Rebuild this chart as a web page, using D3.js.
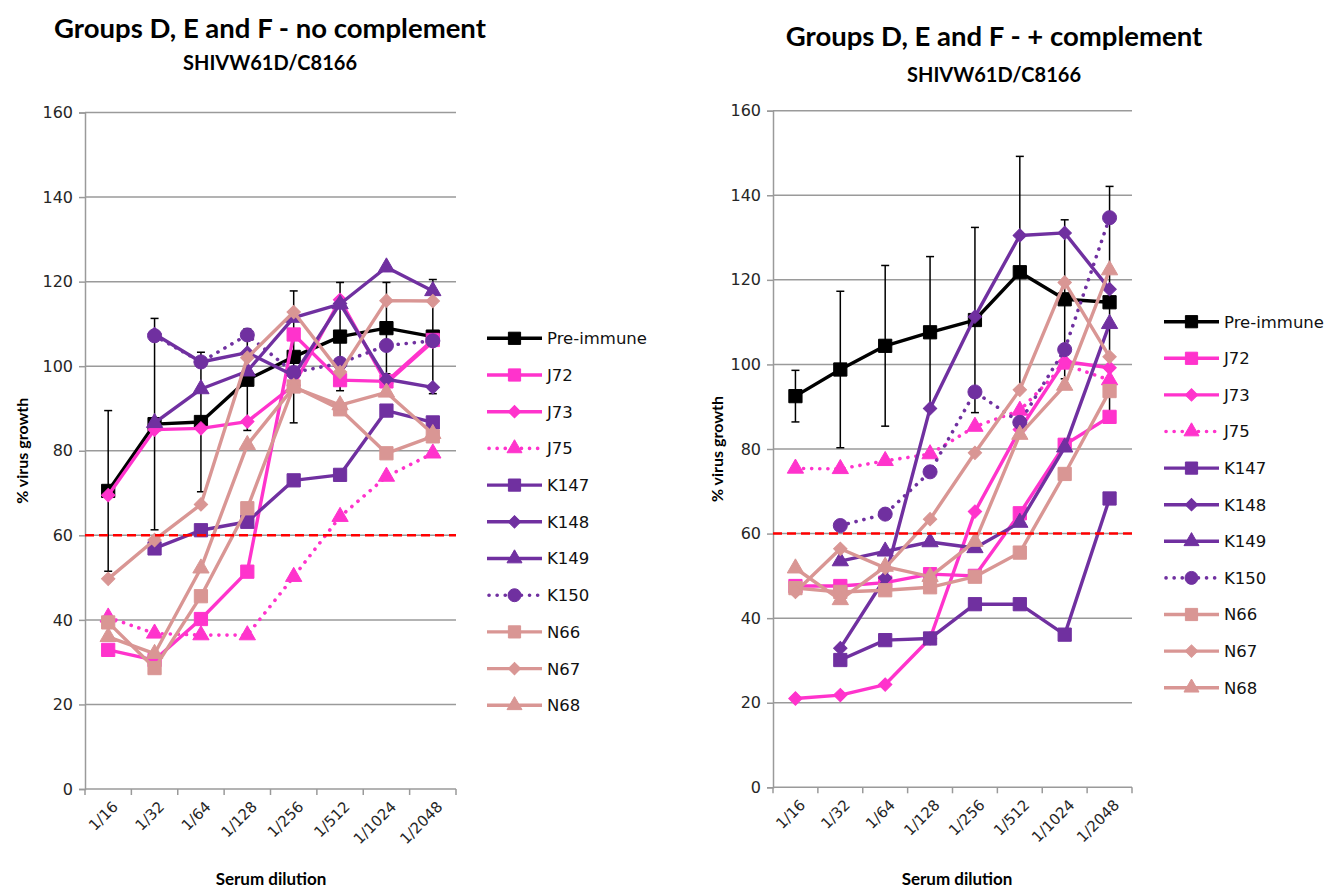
<!DOCTYPE html>
<html>
<head>
<meta charset="utf-8">
<script src="https://cdn.jsdelivr.net/npm/d3@7"></script>
<style>
  html, body { margin: 0; padding: 0; background: #fff; }
  svg { display: block; }
</style>
</head>
<body>
<svg id="chart" width="1336" height="889"></svg>
<script>
// ---------------- DATA ----------------
const categories = ["1/16", "1/32", "1/64", "1/128", "1/256", "1/512", "1/1024", "1/2048"];
const seriesNames = ["Pre-immune", "J72", "J73", "J75", "K147", "K148", "K149", "K150", "N66", "N67", "N68"];
const yTicks = [0, 20, 40, 60, 80, 100, 120, 140, 160];
const thresholdValue = 60;

// Panel 1: no complement
const ncPreImmune = [70.5, 86.3, 86.8, 96.8, 102.2, 107.0, 109.0, 107.0];
const ncPreImmuneErr = [19, 25, 16.5, 12, 15.6, 12.8, 10.8, 13.5];
const ncJ72  = [32.9, 30.5, 40.2, 51.4, 107.5, 96.7, 96.4, 106.2];
const ncJ73  = [69.5, 85.0, 85.3, 86.9, 95.5, 115.7, 96.0, 105.8];
const ncJ75  = [40.6, 36.8, 36.4, 36.4, 50.2, 64.4, 73.9, 79.4];
const ncK147 = [null, 56.9, 61.2, 63.2, 73.0, 74.3, 89.5, 86.7];
const ncK148 = [null, 107.6, 101.0, 103.2, 97.8, 114.8, 96.9, 95.0];
const ncK149 = [null, 86.6, 94.6, 98.8, 111.5, 114.7, 123.4, 117.8];
const ncK150 = [null, 107.2, 101.0, 107.4, 98.5, 100.7, 104.9, 106.0];
const ncN66  = [39.4, 28.6, 45.6, 66.4, 95.2, 89.8, 79.4, 83.4];
const ncN67  = [49.7, 58.9, 67.3, 102.0, 112.8, 98.6, 115.5, 115.4];
const ncN68  = [36.0, 32.0, 52.2, 81.4, 95.0, 90.8, 93.8, 84.0];

// Panel 2: + complement
const pcPreImmune = [92.5, 98.8, 104.4, 107.6, 110.5, 121.8, 115.4, 114.7];
const pcPreImmuneErr = [6.1, 18.5, 19.0, 17.9, 21.9, 27.4, 18.8, 27.4];
const pcJ72  = [47.6, 47.6, 48.4, 50.4, 50.0, 64.8, 81.0, 87.6];
const pcJ73  = [21.0, 21.8, 24.3, 35.2, 65.2, 84.6, 100.7, 99.2];
const pcJ75  = [75.4, 75.3, 77.2, 78.8, 85.3, 89.1, 100.0, 96.3];
const pcK147 = [null, 30.1, 34.8, 35.2, 43.3, 43.3, 36.1, 68.3];
const pcK148 = [null, 32.9, 49.5, 89.6, 111.3, 130.5, 131.1, 117.8];
const pcK149 = [null, 53.5, 55.8, 58.0, 56.6, 62.6, 80.4, 109.6];
const pcK150 = [null, 61.9, 64.6, 74.6, 93.5, 86.3, 103.5, 134.7];
const pcN66  = [47.1, 46.2, 46.6, 47.3, 49.8, 55.5, 74.1, 93.7];
const pcN67  = [46.2, 56.4, 51.9, 63.4, 79.1, 94.0, 119.4, 101.8];
const pcN68  = [51.8, 44.3, 52.2, 49.8, 58.1, 83.4, 95.0, 122.3];

// ---------------- STYLES ----------------
const MAG = "#FF33CC", PUR = "#7030A0", ROSE = "#D99694";
const styleTable = {
  "Pre-immune": { color: "#000000", symbol: "square", dotted: false },
  "J72":  { color: MAG,  symbol: "square",   dotted: false },
  "J73":  { color: MAG,  symbol: "diamond",  dotted: false },
  "J75":  { color: MAG,  symbol: "triangle", dotted: true },
  "K147": { color: PUR,  symbol: "square",   dotted: false },
  "K148": { color: PUR,  symbol: "diamond",  dotted: false },
  "K149": { color: PUR,  symbol: "triangle", dotted: false },
  "K150": { color: PUR,  symbol: "circle",   dotted: true },
  "N66":  { color: ROSE, symbol: "square",   dotted: false },
  "N67":  { color: ROSE, symbol: "diamond",  dotted: false },
  "N68":  { color: ROSE, symbol: "triangle", dotted: false }
};

const panels = [
  {
    title: "Groups D, E and F - no complement", subtitle: "SHIVW61D/C8166",
    titleX: 270, titleY: 38, subY: 70,
    x0: 85, x1: 456, yTop: 112.5, yBot: 789,
    yLabelX: 22, xTitleX: 271,
    legendX: 487, legendY: 338.3, legendStep: 36.7,
    series: [ncPreImmune, ncJ72, ncJ73, ncJ75, ncK147, ncK148, ncK149, ncK150, ncN66, ncN67, ncN68],
    err: ncPreImmuneErr
  },
  {
    title: "Groups D, E and F - + complement", subtitle: "SHIVW61D/C8166",
    titleX: 994, titleY: 46, subY: 82,
    x0: 773, x1: 1132, yTop: 110.7, yBot: 787.3,
    yLabelX: 717, xTitleX: 957,
    legendX: 1164, legendY: 321.7, legendStep: 36.6,
    series: [pcPreImmune, pcJ72, pcJ73, pcJ75, pcK147, pcK148, pcK149, pcK150, pcN66, pcN67, pcN68],
    err: pcPreImmuneErr
  }
];

const svg = d3.select("#chart");
const GRID = "#9a9a9a";
const TEXT = "#262626";

function symbolPath(kind, scale) {
  const s = scale || 1;
  if (kind === "square") return d3.symbol(d3.symbolSquare, 175 * s)();
  if (kind === "diamond") return d3.symbol(d3.symbolSquare, 90 * s)();
  if (kind === "triangle") return d3.symbol(d3.symbolTriangle, 115 * s)();
  return d3.symbol(d3.symbolCircle, 155 * s)();
}
function drawMarker(g, kind, color, cx, cy, scale) {
  g.append("path")
    .attr("d", symbolPath(kind, scale))
    .attr("transform", `translate(${cx},${cy})` + (kind === "diamond" ? " rotate(45)" : ""))
    .attr("fill", color)
    .attr("stroke", color)
    .attr("stroke-width", 1);
}

panels.forEach(p => {
  const x = d3.scaleBand().domain(categories).range([p.x0, p.x1]);
  const y = d3.scaleLinear().domain([0, 160]).range([p.yBot, p.yTop]);
  const g = svg.append("g");

  // titles
  g.append("text").attr("x", p.titleX).attr("y", p.titleY)
    .attr("text-anchor", "middle").attr("font-family", "Lato, 'Open Sans', sans-serif")
    .attr("font-weight", "bold").attr("font-size", 27.5).attr("fill", "#000").text(p.title);
  g.append("text").attr("x", p.titleX).attr("y", p.subY)
    .attr("text-anchor", "middle").attr("font-family", "Lato, 'Open Sans', sans-serif")
    .attr("font-weight", "bold").attr("font-size", 20).attr("fill", "#000").text(p.subtitle);

  // gridlines
  g.append("g").selectAll("line").data(yTicks.filter(t => t > 0)).join("line")
    .attr("x1", p.x0).attr("x2", p.x1).attr("y1", d => y(d)).attr("y2", d => y(d))
    .attr("stroke", GRID).attr("stroke-width", 1.5);

  // y axis
  const yAxis = d3.axisLeft(y).tickValues(yTicks).tickSize(6).tickPadding(6);
  const ya = g.append("g").attr("transform", `translate(${p.x0},0)`).call(yAxis);
  ya.select(".domain").attr("stroke", GRID).attr("stroke-width", 1.5);
  ya.selectAll(".tick line").attr("stroke", GRID).attr("stroke-width", 1.5);
  ya.selectAll(".tick text").attr("font-family", "'DejaVu Sans', Verdana, sans-serif")
    .attr("font-size", 16).attr("fill", TEXT);

  // x axis
  const xa = g.append("g").attr("transform", `translate(0,${p.yBot})`);
  xa.append("line").attr("x1", p.x0).attr("x2", p.x1).attr("y1", 0).attr("y2", 0)
    .attr("stroke", GRID).attr("stroke-width", 1.5);
  const bounds = categories.map(c => x(c)).concat([x(categories[categories.length - 1]) + x.bandwidth()]);
  xa.selectAll("line.tk").data(bounds).join("line").attr("class", "tk")
    .attr("x1", d => d).attr("x2", d => d).attr("y1", 0).attr("y2", 6)
    .attr("stroke", GRID).attr("stroke-width", 1.5);
  xa.selectAll("text.lbl").data(categories).join("text").attr("class", "lbl")
    .attr("transform", d => `translate(${x(d) + x.bandwidth() / 2 + 7},${15}) rotate(-45)`)
    .attr("text-anchor", "end").attr("dy", "0.35em")
    .attr("font-family", "'DejaVu Sans', Verdana, sans-serif").attr("font-size", 15)
    .attr("fill", TEXT).text(d => d);

  // axis titles
  g.append("text").attr("transform", `translate(${p.yLabelX},${(p.yTop + p.yBot) / 2}) rotate(-90)`)
    .attr("text-anchor", "middle").attr("dy", "0.35em")
    .attr("font-family", "Lato, 'Open Sans', sans-serif").attr("font-weight", "bold")
    .attr("font-size", 16).attr("fill", "#000").text("% virus growth");
  g.append("text").attr("x", p.xTitleX).attr("y", 885)
    .attr("text-anchor", "middle")
    .attr("font-family", "Lato, 'Open Sans', sans-serif").attr("font-weight", "bold")
    .attr("font-size", 17).attr("fill", "#000").text("Serum dilution");

  const cx = c => x(c) + x.bandwidth() / 2;

  // series
  p.series.forEach((vals, si) => {
    const name = seriesNames[si];
    const st = styleTable[name];
    const pts = categories.map((c, i) => ({ c, v: vals[i], e: si === 0 ? p.err[i] : null }))
      .filter(d => d.v !== null);
    const sg = g.append("g");
    if (si === 0) {
      const eg = sg.append("g");
      pts.forEach(d => {
        const xx = cx(d.c);
        eg.append("line").attr("x1", xx).attr("x2", xx)
          .attr("y1", y(d.v - d.e)).attr("y2", y(d.v + d.e))
          .attr("stroke", "#000").attr("stroke-width", 1.5);
        [d.v - d.e, d.v + d.e].forEach(v => {
          eg.append("line").attr("x1", xx - 4).attr("x2", xx + 4)
            .attr("y1", y(v)).attr("y2", y(v))
            .attr("stroke", "#000").attr("stroke-width", 1.5);
        });
      });
    }
    const line = d3.line().x(d => cx(d.c)).y(d => y(d.v));
    const path = sg.append("path").datum(pts).attr("d", line)
      .attr("fill", "none").attr("stroke", st.color)
      .attr("stroke-width", st.dotted ? 3.6 : 3.4)
      .attr("stroke-linejoin", "round");
    if (st.dotted) path.attr("stroke-dasharray", "0.1 8").attr("stroke-linecap", "round");
    pts.forEach(d => drawMarker(sg, st.symbol, st.color, cx(d.c), y(d.v), 1));
  });

  // threshold line
  g.append("line").attr("x1", p.x0).attr("x2", p.x1)
    .attr("y1", y(thresholdValue)).attr("y2", y(thresholdValue))
    .attr("stroke", "#FF0000").attr("stroke-width", 2.5).attr("stroke-dasharray", "9 5");

  // legend
  const lg = g.append("g");
  seriesNames.forEach((name, i) => {
    const st = styleTable[name];
    const ly = p.legendY + i * p.legendStep;
    const row = lg.append("g");
    const ll = row.append("line").attr("x1", p.legendX).attr("x2", p.legendX + 55)
      .attr("y1", ly).attr("y2", ly).attr("stroke", st.color)
      .attr("stroke-width", st.dotted ? 3.6 : 3.4);
    if (st.dotted) ll.attr("stroke-dasharray", "0.1 8").attr("stroke-linecap", "round").attr("x1", p.legendX + 2);
    drawMarker(row, st.symbol, st.color, p.legendX + 27.5, ly, 0.85);
    row.append("text").attr("x", p.legendX + 60).attr("y", ly).attr("dy", "0.36em")
      .attr("font-family", "'DejaVu Sans', Verdana, sans-serif").attr("font-size", 16.5)
      .attr("fill", "#111").text(name);
  });
});
</script>
</body>
</html>
